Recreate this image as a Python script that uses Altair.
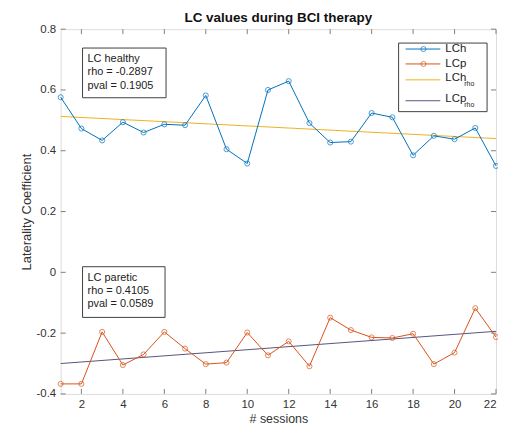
import altair as alt
import pandas as pd

sessions = list(range(1, 23))
lch = [0.576, 0.473, 0.434, 0.494, 0.460, 0.487, 0.484, 0.582, 0.405, 0.358, 0.600,
       0.629, 0.491, 0.427, 0.430, 0.524, 0.510, 0.385, 0.449, 0.438, 0.475, 0.350]
lcp = [-0.367, -0.367, -0.196, -0.305, -0.270, -0.196, -0.251, -0.302, -0.297, -0.198, -0.273,
       -0.227, -0.309, -0.149, -0.190, -0.214, -0.216, -0.202, -0.302, -0.264, -0.118, -0.213]
trend_x = [1, 22]
lch_rho = [0.513, 0.440]
lcp_rho = [-0.300, -0.194]
y_ticks = [-0.4, -0.2, 0, 0.2, 0.4, 0.6, 0.8]
x_ticks = list(range(2, 23, 2))

series_names = ["LCh", "LCp", "LCh_rho", "LCp_rho"]
series_colors = ["#0072BD", "#D95319", "#EDB120", "#55557F"]

W, H = 438, 367
FONT = "Liberation Sans"

df = pd.DataFrame({
    "session": sessions * 2,
    "value": lch + lcp,
    "series": ["LCh"] * len(sessions) + ["LCp"] * len(sessions),
})
tr = pd.DataFrame({
    "session": trend_x * 2,
    "value": lch_rho + lcp_rho,
    "series": ["LCh_rho"] * 2 + ["LCp_rho"] * 2,
})

xs = alt.Scale(domain=[1, 22], nice=False, zero=False)
ys = alt.Scale(domain=[-0.4, 0.8], nice=False, zero=False)
cs = alt.Scale(domain=series_names, range=series_colors)

x_enc = alt.X("session:Q", scale=xs, title="# sessions",
              axis=alt.Axis(values=x_ticks, grid=False, domain=False, ticks=False,
                            labelPadding=5, titlePadding=2, labelFontSize=11.5,
                            titleFontSize=12.5, labelColor="#333333", titleColor="#333333",
                            labelFont=FONT, titleFont=FONT, titleFontWeight="normal"))
y_enc = alt.Y("value:Q", scale=ys, title="Laterality Coefficient",
              axis=alt.Axis(values=y_ticks, grid=False, domain=False, ticks=False,
                            labelPadding=5, titlePadding=3, labelFontSize=11.5,
                            titleFontSize=13, labelColor="#333333", titleColor="#333333",
                            labelFont=FONT, titleFont=FONT, titleFontWeight="normal",
                            labelExpr="datum.value == 0 ? '0' : (datum.value < 0 ? '-' : '') + format(abs(datum.value), '.1f')"))

trend = alt.Chart(tr).mark_line(strokeWidth=1).encode(
    x=x_enc, y=y_enc, color=alt.Color("series:N", scale=cs, legend=None),
    detail="series:N")
lines = alt.Chart(df).mark_line(strokeWidth=1).encode(
    x=x_enc, y=y_enc, color=alt.Color("series:N", scale=cs, legend=None))
pts = alt.Chart(df).mark_point(shape="circle", filled=False, size=26, strokeWidth=1).encode(
    x=x_enc, y=y_enc, color=alt.Color("series:N", scale=cs, legend=None))

# inward ticks (box style)
yt = pd.DataFrame({"value": y_ticks})
xt = pd.DataFrame({"session": x_ticks})
tick_style = dict(color="#808080", strokeWidth=1)
ytl = alt.Chart(yt).mark_rule(**tick_style).encode(y=alt.Y("value:Q", scale=ys), x=alt.value(0), x2=alt.value(5))
ytr = alt.Chart(yt).mark_rule(**tick_style).encode(y=alt.Y("value:Q", scale=ys), x=alt.value(W - 5), x2=alt.value(W))
xtb = alt.Chart(xt).mark_rule(**tick_style).encode(x=alt.X("session:Q", scale=xs), y=alt.value(H - 5), y2=alt.value(H))
xtt = alt.Chart(xt).mark_rule(**tick_style).encode(x=alt.X("session:Q", scale=xs), y=alt.value(0), y2=alt.value(5))

base = alt.Chart(pd.DataFrame({"a": [0]}))

def box(x1, x2, y1, y2):
    return base.mark_rect(fill="white", stroke="#404040", strokeWidth=1).encode(
        x=alt.value(x1), x2=alt.value(x2), y=alt.value(y1), y2=alt.value(y2))

def txt(lines_, x, y, size=11, color="#222222", baseline="top", lh=13.5, align="left", weight="normal"):
    return base.mark_text(align=align, baseline=baseline, fontSize=size, font=FONT,
                          color=color, lineHeight=lh, fontWeight=weight).encode(
        x=alt.value(x), y=alt.value(y), text=alt.value(lines_))

title_txt = txt("LC values during BCI therapy", W / 2, -11, size=13.5, color="#111111",
                baseline="middle", align="center", weight="bold")

healthy_box = box(22, 106, 19, 69)
healthy_txt = txt(["LC healthy", "rho = -0.2897", "pval = 0.1905"], 27, 24)
paretic_box = box(22, 105, 239, 290)
paretic_txt = txt(["LC paretic", "rho = 0.4105", "pval = 0.0589"], 27, 244)

# legend
leg_layers = [box(340, 429, 14, 83)]
leg_y = [20, 35, 51, 72]
for i, (nm, col) in enumerate(zip(series_names, series_colors)):
    yy = leg_y[i]
    leg_layers.append(base.mark_rule(color=col, strokeWidth=1).encode(
        x=alt.value(347), x2=alt.value(382), y=alt.value(yy)))
    if i < 2:
        leg_layers.append(base.mark_point(shape="circle", filled=False, size=26,
                                          strokeWidth=1, color=col).encode(
            x=alt.value(365), y=alt.value(yy)))
        leg_layers.append(txt(nm, 387, yy, size=11.5, baseline="middle"))
    else:
        main = nm.split("_")[0]
        leg_layers.append(txt(main, 387, yy - 2, size=11.5, baseline="middle"))
        leg_layers.append(txt("rho", 406, yy + 4, size=7, baseline="middle"))

chart = alt.layer(
    trend, lines, pts, ytl, ytr, xtb, xtt,
    healthy_box, healthy_txt, paretic_box, paretic_txt, *leg_layers, title_txt
).properties(
    width=W, height=H,
    autosize=alt.AutoSizeParams(type="none"),
    padding={"left": 53, "top": 20, "right": 2, "bottom": 34},
).configure_view(
    stroke="#808080", strokeWidth=1
).configure(background="white")

chart.save("out.html", embed_options={"renderer": "svg", "actions": False})
